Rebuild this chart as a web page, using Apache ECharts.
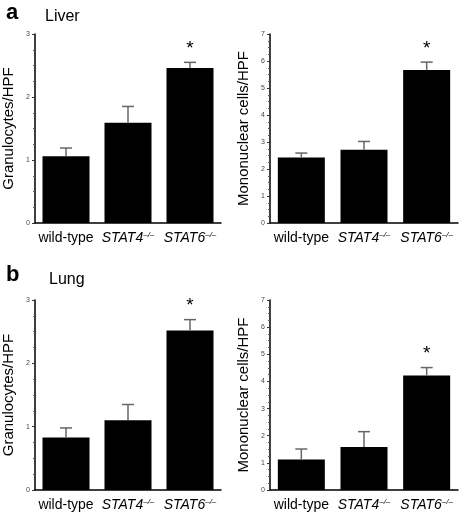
<!DOCTYPE html>
<html>
<head>
<meta charset="utf-8">
<script src="https://cdn.jsdelivr.net/npm/echarts@6/dist/echarts.min.js"></script>
<style>
  html, body { margin: 0; padding: 0; background: #fff; }
  #chart { width: 466px; height: 512px; }
</style>
</head>
<body>
<div id="chart"></div>
<script>
var categories = ['wild-type', 'STAT4', 'STAT6'];
var significant = [false, false, true];

// liver
var liverGran = [1.06, 1.59, 2.46];
var liverGranErr = [1.19, 1.85, 2.55];
var liverMono = [2.43, 2.71, 5.67];
var liverMonoErr = [2.59, 3.02, 5.96];
// lung
var lungGran = [0.83, 1.10, 2.52];
var lungGranErr = [0.98, 1.35, 2.69];
var lungMono = [1.12, 1.58, 4.22];
var lungMonoErr = [1.51, 2.15, 4.51];

var granTicks = [0, 1, 2, 3];
var monoTicks = [0, 1, 2, 3, 4, 5, 6, 7];

var font = 'Liberation Sans, Arial, sans-serif';

var myChart = echarts.init(document.getElementById('chart'), null, {renderer: 'canvas'});

var grids = [
    {left: 35, top: 34, width: 186, height: 189},
    {left: 270, top: 34, width: 188, height: 189},
    {left: 35, top: 300, width: 186, height: 192},
    {left: 270, top: 300, width: 188, height: 192}
];

function catLabel(v) {
    if (v === 'wild-type') return '{n|wild-type}';
    return '{i|' + v + '}{s|\u2013/\u2013}';
}

function makeX(i) {
    return {
        type: 'category',
        gridIndex: i,
        data: categories,
        axisLine: {lineStyle: {color: '#000', width: 1.5}},
        axisTick: {show: false},
        axisLabel: {
            margin: 8,
            interval: 0,
            hideOverlap: false,
            formatter: catLabel,
            rich: {
                n: {fontSize: 14, fontFamily: font, color: '#000'},
                i: {fontSize: 14, fontFamily: font, fontStyle: 'italic', color: '#000'},
                s: {fontSize: 8, fontFamily: font, fontStyle: 'italic', color: '#000', verticalAlign: 'top', lineHeight: 10, padding: [0, 0, 6, 0]}
            }
        }
    };
}

function makeY(i, max, name) {
    return {
        type: 'value',
        gridIndex: i,
        min: 0,
        max: max,
        interval: 1,
        name: name,
        nameLocation: 'middle',
        nameGap: 19,
        nameTextStyle: {fontSize: 15, fontFamily: font, color: '#000'},
        splitLine: {show: false},
        axisLine: {show: true, lineStyle: {color: '#000', width: 1.5}},
        axisTick: {show: true, length: 3, lineStyle: {color: '#333'}},
        minorTick: {show: true, splitNumber: 4, length: 2, lineStyle: {color: '#555'}},
        axisLabel: {fontSize: 7, fontFamily: font, color: '#444', margin: 5}
    };
}

function barSeries(i, values) {
    return {
        type: 'bar',
        xAxisIndex: i,
        yAxisIndex: i,
        data: values,
        barWidth: 47,
        itemStyle: {color: '#000'},
        silent: true
    };
}

function errSeries(i, values, errs) {
    var data = values.map(function (v, k) {
        return [k, v, errs[k], significant[k] ? 1 : 0];
    });
    return {
        type: 'custom',
        xAxisIndex: i,
        yAxisIndex: i,
        data: data,
        z: 10,
        renderItem: function (params, api) {
            var p0 = api.coord([api.value(0), api.value(1)]);
            var p1 = api.coord([api.value(0), api.value(2)]);
            var kids = [
                {type: 'line', shape: {x1: p0[0], y1: p0[1], x2: p1[0], y2: p1[1]},
                 style: {stroke: '#666', lineWidth: 1.5}},
                {type: 'line', shape: {x1: p1[0] - 6, y1: p1[1], x2: p1[0] + 6, y2: p1[1]},
                 style: {stroke: '#666', lineWidth: 1.5}}
            ];
            if (api.value(3)) {
                kids.push({type: 'text', style: {x: p1[0], y: p1[1] - 4, text: '*',
                    fontSize: 19, fontFamily: font, fill: '#000',
                    align: 'center', verticalAlign: 'bottom'}});
            }
            return {type: 'group', children: kids};
        }
    };
}

var option = {
    animation: false,
    title: [
        {text: 'a', left: 1, top: -3, textStyle: {fontSize: 22, fontWeight: 'bold', fontFamily: font, color: '#000'}},
        {text: 'Liver', left: 40, top: 4, textStyle: {fontSize: 16, fontWeight: 'normal', fontFamily: font, color: '#000'}},
        {text: 'b', left: 1, top: 259, textStyle: {fontSize: 22, fontWeight: 'bold', fontFamily: font, color: '#000'}},
        {text: 'Lung', left: 44, top: 267, textStyle: {fontSize: 16, fontWeight: 'normal', fontFamily: font, color: '#000'}}
    ],
    grid: grids,
    xAxis: [makeX(0), makeX(1), makeX(2), makeX(3)],
    yAxis: [
        makeY(0, granTicks[granTicks.length - 1], 'Granulocytes/HPF'),
        makeY(1, monoTicks[monoTicks.length - 1], 'Mononuclear cells/HPF'),
        makeY(2, granTicks[granTicks.length - 1], 'Granulocytes/HPF'),
        makeY(3, monoTicks[monoTicks.length - 1], 'Mononuclear cells/HPF')
    ],
    series: [
        barSeries(0, liverGran), errSeries(0, liverGran, liverGranErr),
        barSeries(1, liverMono), errSeries(1, liverMono, liverMonoErr),
        barSeries(2, lungGran), errSeries(2, lungGran, lungGranErr),
        barSeries(3, lungMono), errSeries(3, lungMono, lungMonoErr)
    ]
};

myChart.setOption(option);
</script>
</body>
</html>
